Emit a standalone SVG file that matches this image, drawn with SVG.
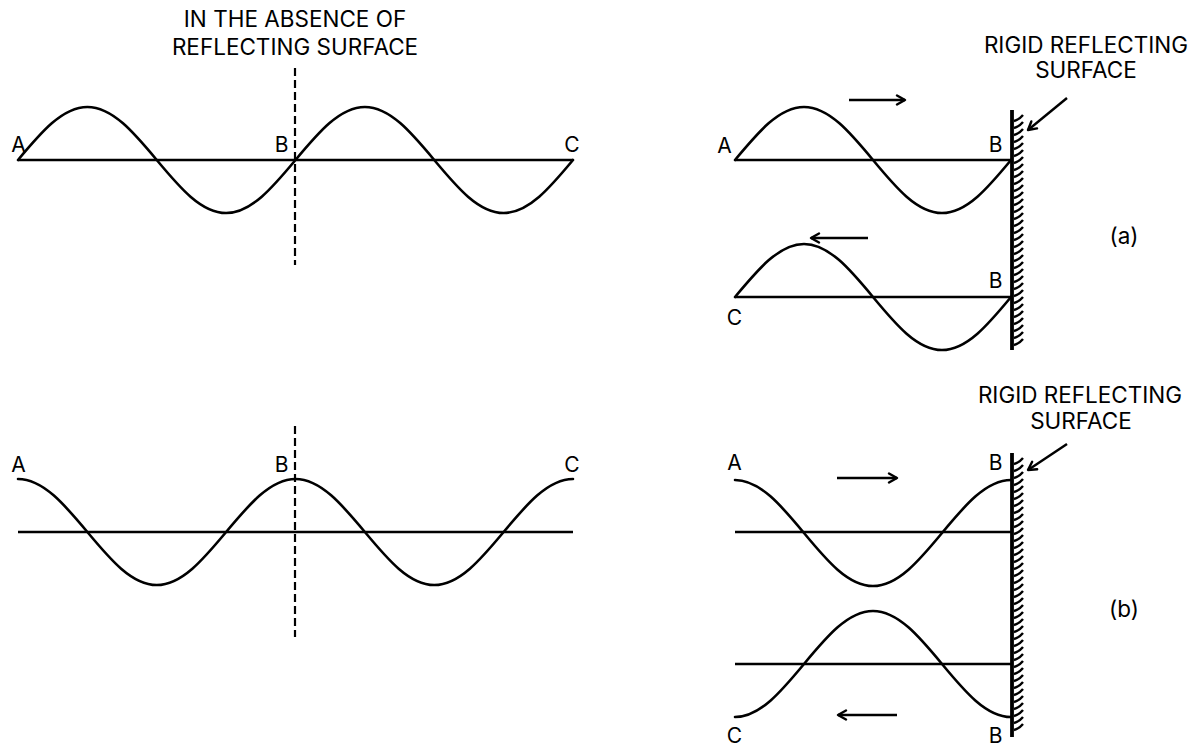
<svg xmlns="http://www.w3.org/2000/svg" width="1200" height="754" viewBox="0 0 1200 754">
<style>
.w{fill:none;stroke:#000;stroke-width:2.6;stroke-linecap:round;stroke-linejoin:round}
.ax{fill:none;stroke:#000;stroke-width:2.6}
.dash{fill:none;stroke:#000;stroke-width:2.2;stroke-dasharray:8 4}
.wall{fill:none;stroke:#000;stroke-width:3.8}
.hat{fill:none;stroke:#000;stroke-width:2.4}
.arr{fill:none;stroke:#000;stroke-width:2.4;marker-end:url(#ah)}
text{font-family:Inter,"Liberation Sans",sans-serif;fill:#000}
.t{font-size:22.5px;text-anchor:middle}
.l{font-size:21px;text-anchor:middle}
</style>
<defs>
<marker id="ah" viewBox="0 0 12 12" refX="10" refY="6" markerWidth="12" markerHeight="12" markerUnits="userSpaceOnUse" orient="auto">
<path d="M2,1.5 L10,6 L2,10.5" fill="none" stroke="#000" stroke-width="2.4" stroke-linecap="round" stroke-linejoin="round"/>
</marker>
</defs>

<g id="free-sine">
<text class="t" x="295" y="27">IN THE ABSENCE OF</text>
<text class="t" x="295" y="55">REFLECTING SURFACE</text>
<line class="ax" x1="18" y1="160" x2="573" y2="160"/>
<path class="w" d="M18,160 c22.63,-27.15 44.27,-53 69.375,-53 s46.74,25.85 69.375,53 s44.27,53 69.375,53 s46.74,-25.85 69.375,-53 s44.27,-53 69.375,-53 s46.74,25.85 69.375,53 s44.27,53 69.375,53 s46.74,-25.85 69.375,-53"/>
<line class="dash" x1="295" y1="68" x2="295" y2="265"/>
<text class="l" x="18.5" y="152">A</text>
<text class="l" x="281.5" y="152">B</text>
<text class="l" x="572" y="152">C</text>
</g>

<g id="free-cosine">
<line class="ax" x1="18" y1="532" x2="573" y2="532"/>
<path class="w" d="M18,479 c25.1,0 46.74,25.85 69.375,53 s44.27,53 69.375,53 s46.74,-25.85 69.375,-53 s44.27,-53 69.375,-53 s46.74,25.85 69.375,53 s44.27,53 69.375,53 s46.74,-25.85 69.375,-53 s44.27,-53 69.375,-53"/>
<line class="dash" x1="295" y1="426" x2="295" y2="637"/>
<text class="l" x="18.5" y="472">A</text>
<text class="l" x="281.5" y="472">B</text>
<text class="l" x="572" y="472">C</text>
</g>

<g id="wall-a">
<text class="t" x="1086" y="53">RIGID REFLECTING</text>
<text class="t" x="1086" y="78">SURFACE</text>
<line class="wall" x1="1012" y1="110" x2="1012" y2="350"/>
<path class="hat" d="M1014,121 q5,-1 9,-6 m-9,13 q5,-1 9,-6 m-9,13 q5,-1 9,-6 m-9,13 q5,-1 9,-6 m-9,13 q5,-1 9,-6 m-9,13 q5,-1 9,-6 m-9,13 q5,-1 9,-6 m-9,13 q5,-1 9,-6 m-9,13 q5,-1 9,-6 m-9,13 q5,-1 9,-6 m-9,13 q5,-1 9,-6 m-9,13 q5,-1 9,-6 m-9,13 q5,-1 9,-6 m-9,13 q5,-1 9,-6 m-9,13 q5,-1 9,-6 m-9,13 q5,-1 9,-6 m-9,13 q5,-1 9,-6 m-9,13 q5,-1 9,-6 m-9,13 q5,-1 9,-6 m-9,13 q5,-1 9,-6 m-9,13 q5,-1 9,-6 m-9,13 q5,-1 9,-6 m-9,13 q5,-1 9,-6 m-9,13 q5,-1 9,-6 m-9,13 q5,-1 9,-6 m-9,13 q5,-1 9,-6 m-9,13 q5,-1 9,-6 m-9,13 q5,-1 9,-6 m-9,13 q5,-1 9,-6 m-9,13 q5,-1 9,-6 m-9,13 q5,-1 9,-6 m-9,13 q5,-1 9,-6 m-9,13 q5,-1 9,-6"/>
<text class="t" x="1124" y="244">(a)</text>
</g>

<g id="incident-a">
<line class="ax" x1="735" y1="160" x2="1012" y2="160"/>
<path class="w" d="M735,160 c22.5,-27.15 44.03,-53 69,-53 s46.5,25.85 69,53 s44.03,53 69,53 s46.5,-25.85 69,-53"/>
<text class="l" x="724.5" y="153">A</text>
<text class="l" x="995.5" y="152">B</text>
</g>

<g id="reflected-a">
<line class="ax" x1="735" y1="297" x2="1012" y2="297"/>
<path class="w" d="M735,297 c22.5,-27.15 44.03,-53 69,-53 s46.5,25.85 69,53 s44.03,53 69,53 s46.5,-25.85 69,-53"/>
<text class="l" x="734.5" y="325">C</text>
<text class="l" x="995.5" y="288">B</text>
</g>

<g id="wall-b">
<text class="t" x="1080" y="403">RIGID REFLECTING</text>
<text class="t" x="1081" y="429">SURFACE</text>
<line class="wall" x1="1012" y1="453" x2="1012" y2="737"/>
<path class="hat" d="M1014,464 q5,-1 9,-6 m-9,13 q5,-1 9,-6 m-9,13 q5,-1 9,-6 m-9,13 q5,-1 9,-6 m-9,13 q5,-1 9,-6 m-9,13 q5,-1 9,-6 m-9,13 q5,-1 9,-6 m-9,13 q5,-1 9,-6 m-9,13 q5,-1 9,-6 m-9,13 q5,-1 9,-6 m-9,13 q5,-1 9,-6 m-9,13 q5,-1 9,-6 m-9,13 q5,-1 9,-6 m-9,13 q5,-1 9,-6 m-9,13 q5,-1 9,-6 m-9,13 q5,-1 9,-6 m-9,13 q5,-1 9,-6 m-9,13 q5,-1 9,-6 m-9,13 q5,-1 9,-6 m-9,13 q5,-1 9,-6 m-9,13 q5,-1 9,-6 m-9,13 q5,-1 9,-6 m-9,13 q5,-1 9,-6 m-9,13 q5,-1 9,-6 m-9,13 q5,-1 9,-6 m-9,13 q5,-1 9,-6 m-9,13 q5,-1 9,-6 m-9,13 q5,-1 9,-6 m-9,13 q5,-1 9,-6 m-9,13 q5,-1 9,-6 m-9,13 q5,-1 9,-6 m-9,13 q5,-1 9,-6 m-9,13 q5,-1 9,-6 m-9,13 q5,-1 9,-6 m-9,13 q5,-1 9,-6 m-9,13 q5,-1 9,-6 m-9,13 q5,-1 9,-6 m-9,13 q5,-1 9,-6 m-9,13 q5,-1 9,-6"/>
<text class="t" x="1124" y="617">(b)</text>
</g>

<g id="incident-b">
<line class="ax" x1="735" y1="532" x2="1012" y2="532"/>
<path class="w" d="M735,480 c24.97,0 46.5,25.85 69,53 s44.03,53 69,53 s46.5,-25.85 69,-53 s44.03,-53 69,-53"/>
<text class="l" x="734.5" y="470">A</text>
<text class="l" x="995.5" y="470">B</text>
</g>

<g id="reflected-b">
<line class="ax" x1="735" y1="664" x2="1012" y2="664"/>
<path class="w" d="M735,717 c24.97,0 46.5,-25.85 69,-53 s44.03,-53 69,-53 s46.5,25.85 69,53 s44.03,53 69,53"/>
<text class="l" x="734.5" y="743">C</text>
<text class="l" x="995.5" y="743">B</text>
</g>

<g id="connectors">
<line class="arr" x1="849" y1="100" x2="905" y2="100"/>
<line class="arr" x1="868" y1="238" x2="811" y2="238"/>
<line class="arr" x1="837" y1="478" x2="897" y2="478"/>
<line class="arr" x1="897" y1="715" x2="838" y2="715"/>
<line class="arr" x1="1067" y1="98" x2="1028" y2="130"/>
<line class="arr" x1="1067" y1="444" x2="1028" y2="470"/>
</g>
</svg>
